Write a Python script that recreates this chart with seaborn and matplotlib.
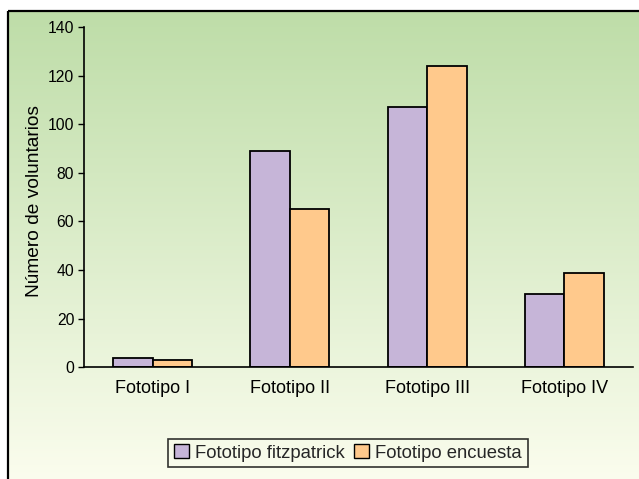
import numpy as np
import pandas as pd
import matplotlib
matplotlib.use("Agg")
import matplotlib.pyplot as plt
from matplotlib.patches import Patch, Rectangle
import seaborn as sns

# Data
categorias = ["Fototipo I", "Fototipo II", "Fototipo III", "Fototipo IV"]
series = ["Fototipo fitzpatrick", "Fototipo encuesta"]
fitzpatrick = [4, 89, 107, 30]
encuesta = [3, 65, 124, 39]
colores = ["#C6B5D8", "#FFC98C"]
yticks = [0, 20, 40, 60, 80, 100, 120, 140]

df = pd.DataFrame({
    "categoria": categorias * 2,
    "serie": [series[0]] * len(categorias) + [series[1]] * len(categorias),
    "valor": fitzpatrick + encuesta,
})

sns.set_theme(style="white")
plt.rcParams["font.family"] = ["Liberation Sans", "DejaVu Sans"]

W, H = 639, 479
fig = plt.figure(figsize=(W / 100, H / 100), dpi=100)

# Background panel: vertical green-to-cream gradient with a frame
bg = fig.add_axes([0, 0, 1, 1], zorder=-1)
bg.set_xlim(0, W)
bg.set_ylim(H, 0)
bg.axis("off")
top = np.array([190, 221, 168]) / 255
bot = np.array([251, 253, 238]) / 255
t = np.linspace(0, 1, 256)[:, None]
grad = (top[None, :] * (1 - t) + bot[None, :] * t)[:, None, :]
bg.imshow(grad, extent=(8, W + 2, H + 2, 11), aspect="auto", interpolation="bilinear")
bg.add_patch(Rectangle((8, 11), W, H, fill=False, edgecolor="black", linewidth=1.6))

ax = fig.add_axes([84 / W, 1 - 367.3 / H, (633 - 84) / W, 340.3 / H])
ax.patch.set_alpha(0)

sns.barplot(data=df, x="categoria", y="valor", hue="serie", order=categorias,
            hue_order=series, palette=colores, width=0.576, gap=0,
            edgecolor="black", linewidth=1.3, saturation=1, ax=ax)
if ax.get_legend() is not None:
    ax.get_legend().remove()

ax.set_ylim(0, 140)
ax.set_yticks(yticks)
ax.set_xlabel("")
ax.set_ylabel("Número de voluntarios", fontsize=13.8, color="black")
ax.yaxis.set_label_coords(-0.075, 0.49)
for s in ["top", "right"]:
    ax.spines[s].set_visible(False)
for s in ["left", "bottom"]:
    ax.spines[s].set_color("black")
    ax.spines[s].set_linewidth(1.2)
ax.tick_params(axis="y", left=True, length=4, width=1, pad=3, labelsize=11.3,
               colors="black", direction="out")
ax.tick_params(axis="x", bottom=False, length=0, pad=9, labelsize=13, colors="black")

handles = [Patch(facecolor=c, edgecolor="black", linewidth=1.0, label=s)
           for c, s in zip(colores, series)]
leg = fig.legend(handles=handles, loc="center", bbox_to_anchor=(348 / W, 1 - 453 / H),
                 ncol=2, frameon=True, fontsize=13.3, handlelength=0.8, handleheight=0.8,
                 handletextpad=0.35, columnspacing=0.5, borderpad=0.3,
                 fancybox=False, edgecolor="black", facecolor="none")
leg.get_frame().set_linewidth(1.2)

fig.savefig("out.png", dpi=100)
